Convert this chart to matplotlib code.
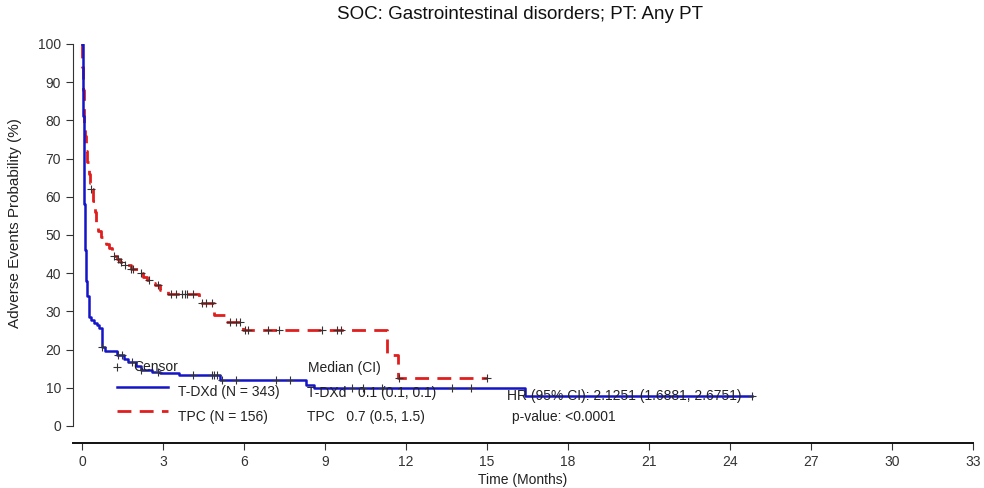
import numpy as np
import matplotlib
matplotlib.use("Agg")
import matplotlib.pyplot as plt

plt.rcParams['font.family'] = ['Liberation Sans', 'DejaVu Sans']

# Kaplan-Meier style step data (time in months, probability in %)
tdxd_t = [0, 0.04, 0.08, 0.12, 0.16, 0.2, 0.25, 0.35, 0.45, 0.55, 0.65, 0.74, 0.85, 1.3,
          1.55, 1.7, 2.0, 2.2, 2.6, 2.9, 3.6, 5.1, 8.3, 8.6, 16.4, 24.8]
tdxd_p = [100, 81, 58, 46, 38, 34, 28.5, 27.6, 27, 26.3, 25.6, 20.7, 19.6, 18.6,
          17.5, 16.8, 15.6, 14.7, 14.2, 13.9, 13.3, 12.1, 10.7, 9.9, 7.8, 7.8]
tdxd_cens = [0.74, 1.33, 1.5, 1.85, 2.2, 2.8, 4.1, 4.8, 4.9, 5.0, 5.2, 5.7, 7.2, 7.7,
             10.0, 10.4, 11.1, 13.7, 14.4, 24.8]

tpc_t = [0, 0.02, 0.04, 0.06, 0.08, 0.12, 0.16, 0.2, 0.25, 0.3, 0.35, 0.42, 0.48, 0.53,
         0.6, 0.7, 0.8, 0.9, 1.0, 1.1, 1.2, 1.3, 1.4, 1.6, 1.8, 2.1, 2.25, 2.4, 2.55,
         2.7, 2.9, 3.2, 4.35, 4.9, 5.3, 5.95, 11.3, 11.7, 15.0]
tpc_p = [100, 94, 88, 83, 79, 76, 72, 69, 66, 63.5, 62, 59, 56, 53.5,
         51, 49.5, 48.3, 47.5, 46.5, 45.5, 44.5, 43.7, 43, 42, 41, 40, 39, 38.2, 37.5,
         37, 35.6, 34.6, 32.2, 29.1, 27.2, 25.1, 18.6, 12.6, 12.6]
tpc_cens = [0.35, 1.2, 1.35, 1.45, 1.6, 1.8, 1.9, 2.2, 2.5, 2.8, 3.3, 3.5, 3.7, 3.8,
            3.9, 4.1, 4.45, 4.6, 4.8, 5.5, 5.7, 5.85, 6.05, 6.15, 6.9, 7.3, 8.9, 9.45,
            9.6, 11.75, 15.0]

x_ticks = list(range(0, 34, 3))
y_ticks = list(range(0, 101, 10))

blue = '#1414c8'
red = '#e01e1e'


def step_at(ts, ps, c):
    idx = np.searchsorted(ts, c, side='right') - 1
    return np.array(ps)[idx]


fig = plt.figure(figsize=(9.84, 4.88), dpi=100)
ax = fig.add_axes([0.0742, 0.092, 0.9146, 0.818])

ax.plot(tpc_t, tpc_p, drawstyle='steps-post', color=red, lw=2.0,
        dashes=(5, 3), zorder=2)
ax.plot(tdxd_t, tdxd_p, drawstyle='steps-post', color=blue, lw=1.8, zorder=3)

ax.plot(tpc_cens, step_at(tpc_t, tpc_p, tpc_cens), '+', color='#333333',
        ms=6, mew=0.8, zorder=4)
ax.plot(tdxd_cens, step_at(tdxd_t, tdxd_p, tdxd_cens), '+', color='#333333',
        ms=6, mew=0.8, zorder=4)

ax.set_xlim(-0.33, 33)
ax.set_ylim(-4.5, 100)
ax.set_xticks(x_ticks)
ax.set_yticks(y_ticks)
ax.spines['top'].set_visible(False)
ax.spines['right'].set_visible(False)
ax.spines['left'].set_color('#333333')
ax.spines['bottom'].set_color('#111111')
ax.spines['bottom'].set_linewidth(1.4)
ax.spines['left'].set_bounds(0, 100)
ax.tick_params(direction='out', length=5, labelsize=10, colors='#333333')

ax.set_xlabel('Time (Months)', fontsize=10, color='#222222', labelpad=3)
ax.set_ylabel('Adverse Events Probability (%)', fontsize=11, color='#222222', labelpad=6)
ax.yaxis.set_label_coords(-0.057, 0.55)
fig.suptitle('SOC: Gastrointestinal disorders; PT: Any PT', x=0.528, y=0.988,
             fontsize=13.5, color='#111111')

# in-plot legend and statistics
fs = 10
ax.plot([1.3], [15.4], '+', color='#333333', ms=6, mew=0.8)
ax.text(1.9, 15.4, 'Censor', fontsize=fs, va='center', color='#222222')
ax.plot([1.3, 3.19], [10.2, 10.2], color=blue, lw=1.8)
ax.text(3.55, 8.9, 'T-DXd (N = 343)', fontsize=fs, va='center', color='#222222')
ax.plot([1.3, 3.19], [3.9, 3.9], color=red, lw=2.0, dashes=(5, 3))
ax.text(3.55, 2.4, 'TPC (N = 156)', fontsize=fs, va='center', color='#222222')

ax.text(8.37, 15.2, 'Median (CI)', fontsize=fs, va='center', color='#222222')
ax.text(8.33, 8.6, 'T-DXd   0.1 (0.1, 0.1)', fontsize=fs, va='center', color='#222222')
ax.text(8.33, 2.4, 'TPC   0.7 (0.5, 1.5)', fontsize=fs, va='center', color='#222222')
ax.text(15.74, 7.85, 'HR (95% CI): 2.1251 (1.6881, 2.6751)', fontsize=fs,
        va='center', color='#222222')
ax.text(15.93, 2.4, 'p-value: <0.0001', fontsize=fs, va='center', color='#222222')

fig.savefig('out.png', dpi=100)
